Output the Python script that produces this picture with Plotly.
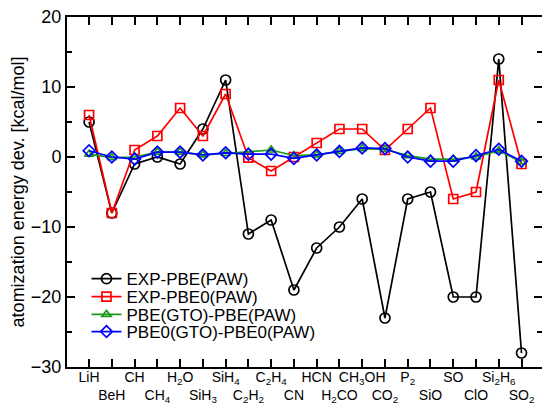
import plotly.graph_objects as go

molecules = ["LiH", "BeH", "CH", "CH<sub>4</sub>", "H<sub>2</sub>O", "SiH<sub>3</sub>", "SiH<sub>4</sub>",
             "C<sub>2</sub>H<sub>2</sub>", "C<sub>2</sub>H<sub>4</sub>", "CN", "HCN", "H<sub>2</sub>CO",
             "CH<sub>3</sub>OH", "CO<sub>2</sub>", "P<sub>2</sub>", "SiO", "SO", "ClO",
             "Si<sub>2</sub>H<sub>6</sub>", "SO<sub>2</sub>"]

exp_pbe = [5, -8, -1, 0, -1, 4, 11, -11, -9, -19, -13, -10, -6, -23, -6, -5, -20, -20, 14, -28]
exp_pbe0 = [6, -8, 1, 3, 7, 3, 9, -0.1, -2, 0, 2, 4, 4, 1, 4, 7, -6, -5, 11, -1]
pbe_gto = [0.4, -0.1, 0, 0.7, 0.7, 0.3, 0.5, 0.7, 1.0, 0.2, 0.3, 0.8, 1.2, 1.1, 0.2, -0.3, -0.3, 0.0, 0.9, -0.7]
pbe0_gto = [0.9, 0, -0.3, 0.7, 0.7, 0.3, 0.6, 0.4, 0.4, -0.2, 0.3, 0.8, 1.3, 1.2, 0, -0.6, -0.6, 0.2, 1.1, -0.6]

series_names = ["EXP-PBE(PAW)", "EXP-PBE0(PAW)", "PBE(GTO)-PBE(PAW)", "PBE0(GTO)-PBE0(PAW)"]
colors = ["black", "red", "#1a9a1a", "blue"]
symbols = ["circle-open", "square-open", "triangle-up-open", "diamond-open"]
sizes = [10, 9, 8, 9]
legend_ids = ["legend", "legend2", "legend3", "legend4"]
legend_y = [0.251, 0.2, 0.149, 0.1]

x = list(range(len(molecules)))
ticktext = [m if i % 2 == 0 else "<br>" + m for i, m in enumerate(molecules)]

FONT = "Liberation Sans, Arial, sans-serif"
fig = go.Figure()
for name, vals, c, s, sz, lg in zip(series_names, [exp_pbe, exp_pbe0, pbe_gto, pbe0_gto], colors, symbols, sizes, legend_ids):
    fig.add_trace(go.Scatter(x=x, y=vals, name=name, mode="lines+markers", legend=lg,
                             line=dict(color=c, width=1.7),
                             marker=dict(symbol=s, size=sz, color=c, line=dict(width=1.7, color=c))))

axis_font = dict(family=FONT, size=14, color="black")
layout_legends = {}
for lg, ly in zip(legend_ids, legend_y):
    layout_legends[lg] = dict(x=0.041, y=ly, xanchor="left", yanchor="middle", bgcolor="rgba(0,0,0,0)",
                              font=dict(family=FONT, size=17, color="black"), itemwidth=30)

fig.update_layout(
    width=542, height=410,
    margin=dict(l=67, r=0, t=17, b=43),
    plot_bgcolor="white", paper_bgcolor="white",
    font=axis_font,
    showlegend=True,
    **layout_legends,
    xaxis=dict(range=[-0.97, 19.9], tickmode="array", tickvals=x, ticktext=ticktext, tickangle=0,
               automargin=False, ticklabelstandoff=-4,
               ticks="inside", ticklen=8, tickwidth=1.5, tickcolor="black",
               showline=True, linecolor="black", linewidth=2, mirror="ticks",
               showgrid=False, zeroline=False, tickfont=axis_font),
    yaxis=dict(range=[-30, 20], tickmode="array", tickvals=[-30, -20, -10, 0, 10, 20],
               automargin=False,
               ticks="inside", ticklen=8, tickwidth=1.5, tickcolor="black",
               minor=dict(tickvals=[-25, -15, -5, 5, 15], ticks="inside", ticklen=5, tickwidth=1.5, tickcolor="black"),
               showline=True, linecolor="black", linewidth=2, mirror="ticks",
               showgrid=False, zeroline=False, tickfont=dict(family=FONT, size=18, color="black"),
               title=dict(text="atomization energy dev. [kcal/mol]", standoff=2,
                          font=dict(family=FONT, size=18, color="black"))),
)

fig.write_html("out.html", config={"displayModeBar": False},
               post_script="document.body.style.margin='0';document.body.style.overflow='hidden';")
